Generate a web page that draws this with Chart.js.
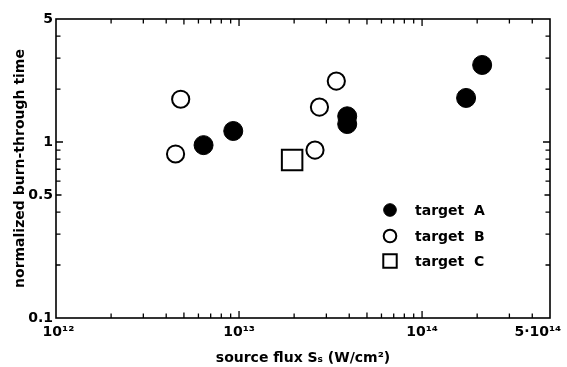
<!DOCTYPE html>
<html>
<head>
<meta charset="utf-8">
<script src="https://cdn.jsdelivr.net/npm/chart.js@4"></script>
<style>
	body { margin: 0; background: #fff; }
	#wrap { width: 567px; height: 367px; }
</style>
</head>
<body>
<div id="wrap"><canvas id="chart" width="567" height="367"></canvas></div>
<script>
// values
const target_a_x = [6.4e12, 9.3e12, 3.9e13, 3.9e13, 1.74e14, 2.13e14];
const target_a_y = [0.96, 1.155, 1.40, 1.265, 1.78, 2.74];
const target_b_x = [4.8e12, 4.5e12, 2.6e13, 2.75e13, 3.4e13];
const target_b_y = [1.75, 0.855, 0.90, 1.58, 2.22];
const target_c_x = [1.95e13];
const target_c_y = [0.79];

const x_ticks = [1e12, 1e13, 1e14, 5e14];
// trailing spaces pull the last label back inside the page, as in the original
const x_labels = [' 10¹²', '10¹³', '10¹⁴', '5·10¹⁴     '];
const y_ticks = [0.1, 0.5, 1, 5];
const y_labels = ['0.1', '0.5', '1', '5'];

const font_family = "'DejaVu Sans', sans-serif";

function pts(xs, ys) {
	return xs.map((x, i) => ({ x: x, y: ys[i] }));
}

// minor tick positions for the inward tick marks
function minor_ticks(lo, hi) {
	const out = [];
	for (let d = lo; d < hi * 1.0001; d *= 10) {
		for (let m = 1; m < 10; m++) {
			const v = d * m;
			if (v >= lo * 0.9999 && v <= hi * 1.0001) out.push({ v: v, m: m });
		}
	}
	return out;
}

const frame_plugin = {
	id: 'frame',
	afterDraw(chart) {
		const ctx = chart.ctx;
		const a = chart.chartArea;
		const xs = chart.scales.x;
		const ys = chart.scales.y;
		ctx.save();
		ctx.strokeStyle = '#000';
		ctx.lineWidth = 1.6;
		ctx.strokeRect(a.left, a.top, a.right - a.left, a.bottom - a.top);
		ctx.lineWidth = 1.3;
		const len = (m) => (m === 1 ? 7 : (m === 5 ? 5.5 : 4.5));
		minor_ticks(1e12, 5e14).forEach((t) => {
			const px = xs.getPixelForValue(t.v);
			if (px <= a.left + 1 || px >= a.right - 1) return;
			ctx.beginPath();
			ctx.moveTo(px, a.bottom);
			ctx.lineTo(px, a.bottom - len(t.m));
			ctx.moveTo(px, a.top);
			ctx.lineTo(px, a.top + len(t.m));
			ctx.stroke();
		});
		minor_ticks(0.1, 5).forEach((t) => {
			const py = ys.getPixelForValue(t.v);
			if (py <= a.top + 1 || py >= a.bottom - 1) return;
			ctx.beginPath();
			ctx.moveTo(a.left, py);
			ctx.lineTo(a.left + len(t.m), py);
			ctx.moveTo(a.right, py);
			ctx.lineTo(a.right - len(t.m), py);
			ctx.stroke();
		});

		// legend inside the plot
		const lx = 390;
		const ly = [210, 236, 261];
		ctx.font = 'bold 14px ' + font_family;
		ctx.textBaseline = 'middle';
		ctx.fillStyle = '#000';
		chart.data.datasets.forEach((ds, i) => {
			ctx.save();
			ctx.fillStyle = ds.backgroundColor;
			ctx.strokeStyle = ds.borderColor;
			ctx.lineWidth = ds.borderWidth;
			Chart.helpers.drawPoint(ctx, {
				pointStyle: ds.pointStyle,
				radius: ds.pointStyle === 'rect' ? 9.5 : 6.3,
				borderWidth: ds.borderWidth
			}, lx, ly[i]);
			ctx.restore();
			ctx.fillText(ds.label, 415, ly[i] + 1);
		});
		ctx.restore();
	}
};

const ctx = document.getElementById('chart').getContext('2d');

new Chart(ctx, {
	type: 'scatter',
	data: {
		datasets: [{
			label: 'target  A',
			data: pts(target_a_x, target_a_y),
			pointStyle: 'circle',
			pointRadius: 9.5,
			backgroundColor: '#000',
			borderColor: '#000',
			borderWidth: 1
		}, {
			label: 'target  B',
			data: pts(target_b_x, target_b_y),
			pointStyle: 'circle',
			pointRadius: 8.6,
			backgroundColor: '#fff',
			borderColor: '#000',
			borderWidth: 2
		}, {
			label: 'target  C',
			data: pts(target_c_x, target_c_y),
			pointStyle: 'rect',
			pointRadius: 14.5,
			backgroundColor: '#fff',
			borderColor: '#000',
			borderWidth: 2
		}]
	},
	options: {
		responsive: false,
		animation: false,
		layout: {
			padding: { left: 0, top: 19, right: 17, bottom: 0 }
		},
		plugins: {
			legend: { display: false },
			tooltip: { enabled: false }
		},
		scales: {
			x: {
				type: 'logarithmic',
				min: 1e12,
				max: 5e14,
				grid: { display: false, drawTicks: false },
				border: { display: false },
				afterBuildTicks(scale) {
					scale.ticks = x_ticks.map((v) => ({ value: v }));
				},
				afterFit(scale) {
					scale.height = 49;
					scale.paddingLeft = 0;
					scale.paddingRight = 0;
				},
				ticks: {
					autoSkip: false,
					maxRotation: 0,
					padding: 6,
					color: '#000',
					font: { family: font_family, size: 14, weight: 'bold' },
					callback(v) {
						const i = x_ticks.indexOf(v);
						return i >= 0 ? x_labels[i] : '';
					}
				},
				title: {
					display: true,
					text: 'source flux Sₛ (W/cm²)',
					color: '#000',
					padding: { top: 1, bottom: 0 },
					font: { family: font_family, size: 14, weight: 'bold' }
				}
			},
			y: {
				type: 'logarithmic',
				min: 0.1,
				max: 5,
				grid: { display: false, drawTicks: false },
				border: { display: false },
				afterBuildTicks(scale) {
					scale.ticks = y_ticks.map((v) => ({ value: v }));
				},
				afterFit(scale) {
					scale.width = 56;
					scale.paddingTop = 0;
					scale.paddingBottom = 0;
				},
				ticks: {
					autoSkip: false,
					padding: 3,
					color: '#000',
					font: { family: font_family, size: 14, weight: 'bold' },
					callback(v) {
						const i = y_ticks.indexOf(v);
						return i >= 0 ? y_labels[i] : '';
					}
				},
				title: {
					display: true,
					text: 'normalized burn-through time',
					color: '#000',
					padding: { top: 12, bottom: 0 },
					font: { family: font_family, size: 14, weight: 'bold' }
				}
			}
		}
	},
	plugins: [frame_plugin]
});
</script>
</body>
</html>
